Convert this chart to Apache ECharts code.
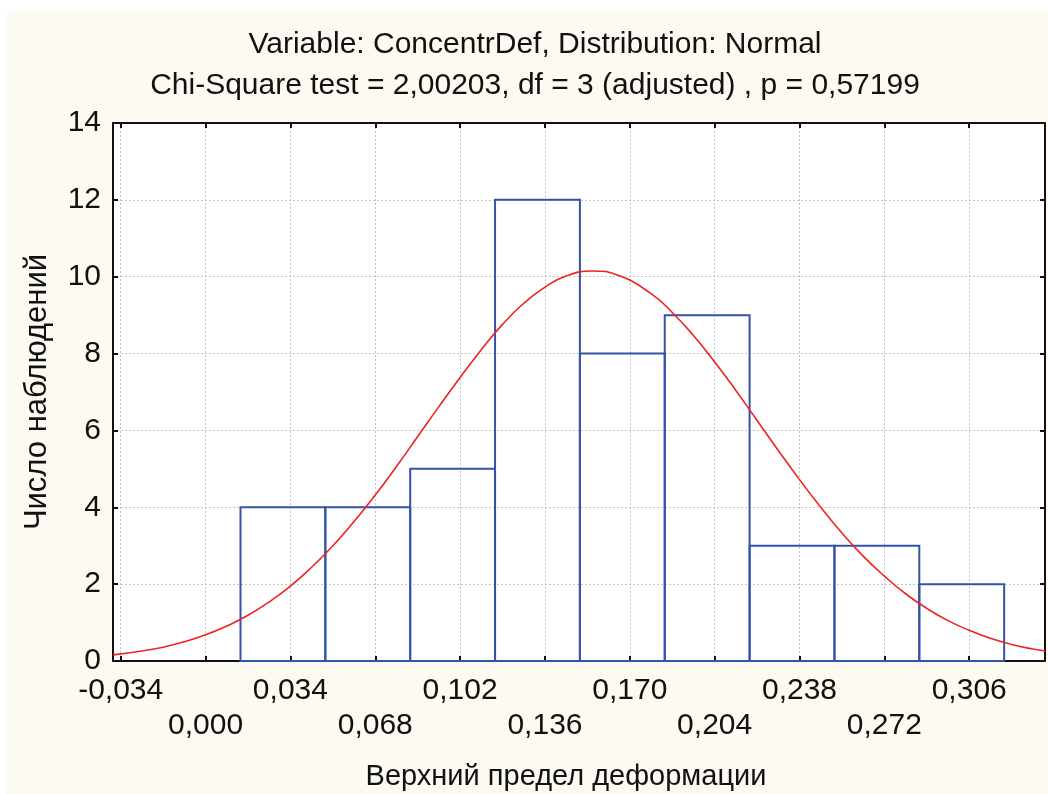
<!DOCTYPE html>
<html>
<head>
<meta charset="utf-8">
<script src="https://cdn.jsdelivr.net/npm/echarts@6/dist/echarts.min.js"></script>
<style>
html,body{margin:0;padding:0;background:#fff;}
#chart{width:1048px;height:794px;}
</style>
</head>
<body>
<div id="chart"></div>
<script>
// ---- data ----
const titleLines = ['Variable: ConcentrDef, Distribution: Normal',
                    'Chi-Square test = 2,00203, df = 3 (adjusted) , p = 0,57199'];
const xAxisName = 'Верхний предел деформации';
const yAxisName = 'Число наблюдений';
const binStarts = [0.014, 0.048, 0.082, 0.116, 0.150, 0.184, 0.218, 0.252, 0.286];
const binEnds   = [0.048, 0.082, 0.116, 0.150, 0.184, 0.218, 0.252, 0.286, 0.320];
const counts    = [4, 4, 5, 12, 8, 9, 3, 3, 2];
const xTickValues = [-0.034, 0.000, 0.034, 0.068, 0.102, 0.136, 0.170, 0.204, 0.238, 0.272, 0.306];
const xTickLabels = ['-0,034','0,000','0,034','0,068','0,102','0,136','0,170','0,204','0,238','0,272','0,306'];
const curveX = [-0.037, -0.0255, -0.017, -0.0085, 0.000, 0.0085, 0.017, 0.0255, 0.034, 0.0425,
                0.051, 0.0595, 0.068, 0.0765, 0.085, 0.0935, 0.102, 0.1105, 0.119, 0.1275,
                0.136, 0.1445, 0.155, 0.1655, 0.1785, 0.187, 0.1955, 0.204, 0.2125,
                0.221, 0.2295, 0.238, 0.2465, 0.255, 0.2635, 0.272, 0.2805, 0.289, 0.2975,
                0.306, 0.3145, 0.323, 0.3315, 0.3364];
const curveY = [0.16, 0.26, 0.36, 0.50, 0.68, 0.91, 1.19, 1.54, 1.95, 2.44,
                3.00, 3.63, 4.32, 5.06, 5.84, 6.62, 7.38, 8.10, 8.76, 9.31,
                9.73, 10.02, 10.15, 10.03, 9.56, 9.07, 8.47, 7.78, 7.04,
                6.26, 5.48, 4.72, 4.00, 3.33, 2.73, 2.21, 1.75, 1.37, 1.05,
                0.80, 0.59, 0.43, 0.31, 0.26];
const xMin = -0.03709, xMax = 0.33637;
const yMin = 0, yMax = 14, yStep = 2;

// ---- chart ----
const FONT = '"Liberation Sans", Arial, sans-serif';
const chart = echarts.init(document.getElementById('chart'));
const labelMap = {};
xTickValues.forEach((v, i) => { labelMap[v.toFixed(3)] = i; });

const barData = binStarts.map((s, i) => [s, binEnds[i], counts[i]]);
const lineData = curveX.map((x, i) => [x, curveY[i]]);

const axisLineStyle = { color: '#111', width: 2 };

chart.setOption({
  backgroundColor: '#ffffff',
  animation: false,
  graphic: [
    { type: 'rect', z: -10, silent: true, shape: { x: 7, y: 11, width: 1041, height: 783 },
      style: { fill: '#fdfaf2' } },
    { type: 'text', x: 535, y: 45, style: { text: titleLines[0], font: '30px ' + FONT,
      fill: '#111', textAlign: 'center', textVerticalAlign: 'middle' } },
    { type: 'text', x: 535, y: 86, style: { text: titleLines[1], font: '30px ' + FONT,
      fill: '#111', textAlign: 'center', textVerticalAlign: 'middle' } },
    { type: 'text', x: 566, y: 777, style: { text: xAxisName, font: '29px ' + FONT,
      fill: '#111', textAlign: 'center', textVerticalAlign: 'middle' } }
  ],
  grid: { left: 113, right: 3, top: 123, bottom: 133, show: true,
          backgroundColor: '#ffffff', borderWidth: 0 },
  xAxis: [
    {
      type: 'value', min: xMin, max: xMax, position: 'bottom',
      axisLine: { show: true, onZero: false, lineStyle: axisLineStyle },
      axisTick: { show: true, inside: true, length: 5, customValues: xTickValues,
                  lineStyle: { color: '#111', width: 2 } },
      axisLabel: {
        customValues: xTickValues, margin: 12, fontFamily: FONT, fontSize: 30,
        color: '#111', lineHeight: 35, showMinLabel: true, showMaxLabel: true,
        formatter: function (v) {
          const i = labelMap[v.toFixed(3)];
          const t = xTickLabels[i];
          return i % 2 === 0 ? t : '\n' + t;
        }
      },
      splitLine: { show: true, lineStyle: { color: '#c4c4c4', type: [2, 2], width: 1 } }
    },
    {
      type: 'value', min: xMin, max: xMax, position: 'top',
      axisLine: { show: true, onZero: false, lineStyle: axisLineStyle },
      axisTick: { show: true, inside: true, length: 5, customValues: xTickValues,
                  lineStyle: { color: '#111', width: 2 } },
      axisLabel: { show: false }, splitLine: { show: false }
    }
  ],
  yAxis: [
    {
      type: 'value', min: yMin, max: yMax, interval: yStep, position: 'left',
      name: yAxisName, nameLocation: 'middle', nameGap: 60,
      nameTextStyle: { fontFamily: FONT, fontSize: 31, color: '#111' },
      axisLine: { show: true, onZero: false, lineStyle: axisLineStyle },
      axisTick: { show: true, inside: true, length: 5, lineStyle: { color: '#111', width: 2 } },
      axisLabel: { margin: 12, fontFamily: FONT, fontSize: 30, color: '#111' },
      splitLine: { show: true, lineStyle: { color: '#c4c4c4', type: [2, 2], width: 1 } }
    },
    {
      type: 'value', min: yMin, max: yMax, interval: yStep, position: 'right',
      axisLine: { show: true, onZero: false, lineStyle: axisLineStyle },
      axisTick: { show: true, inside: true, length: 5, lineStyle: { color: '#111', width: 2 } },
      axisLabel: { show: false }, splitLine: { show: false }
    }
  ],
  series: [
    {
      type: 'custom', xAxisIndex: 0, yAxisIndex: 0, data: barData,
      encode: { x: [0, 1], y: 2 },
      renderItem: function (params, api) {
        const p0 = api.coord([api.value(0), 0]);
        const p1 = api.coord([api.value(1), api.value(2)]);
        return {
          type: 'rect',
          shape: { x: p0[0], y: p1[1], width: p1[0] - p0[0], height: p0[1] - p1[1] },
          style: { fill: 'none', stroke: '#3353a6', lineWidth: 2 }
        };
      },
      z: 3
    },
    {
      type: 'line', xAxisIndex: 0, yAxisIndex: 0, data: lineData, smooth: true,
      showSymbol: false, symbol: 'none', clip: true,
      lineStyle: { color: '#ee2222', width: 1.6 }, z: 4
    }
  ]
});
</script>
</body>
</html>
